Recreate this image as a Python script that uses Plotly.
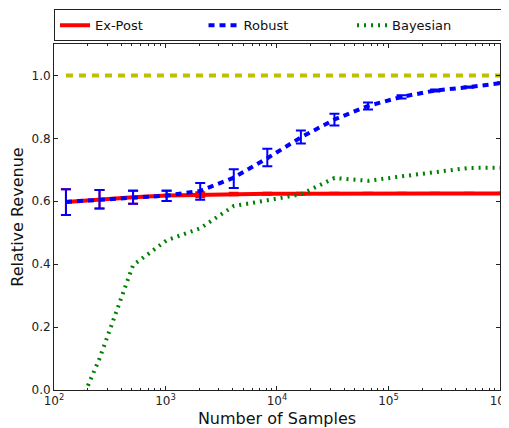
import plotly.graph_objects as go

samples = [2**k for k in range(7, 21)]

expost = [0.598, 0.606, 0.613, 0.618, 0.621, 0.623, 0.624, 0.624, 0.625, 0.625, 0.625, 0.625, 0.625, 0.625]
expost_err_up = [0.040, 0.030, 0.020, 0.015, 0.008, 0.004, 0.003, 0.003, 0.002, 0.002, 0.002, 0.002, 0.002, 0.002]
expost_err_dn = [0.042, 0.029, 0.021, 0.017, 0.008, 0.004, 0.003, 0.003, 0.002, 0.002, 0.002, 0.002, 0.002, 0.002]

robust = [0.598, 0.605, 0.613, 0.618, 0.633, 0.675, 0.737, 0.803, 0.860, 0.903, 0.932, 0.952, 0.963, 0.976]
robust_err_up = [0.040, 0.031, 0.021, 0.016, 0.025, 0.027, 0.030, 0.022, 0.018, 0.011, 0.005, 0.003, 0.002, 0.002]
robust_err_dn = [0.042, 0.028, 0.021, 0.017, 0.028, 0.033, 0.026, 0.019, 0.019, 0.011, 0.005, 0.003, 0.002, 0.002]

bayesian = [-0.15, 0.10, 0.397, 0.476, 0.514, 0.585, 0.603, 0.622, 0.674, 0.665, 0.679, 0.691, 0.706, 0.707]

optimal = [1.0] * len(samples)

x_ticks = [1e2, 1e3, 1e4, 1e5, 1e6]
x_tick_labels = ["10<sup>2</sup>", "10<sup>3</sup>", "10<sup>4</sup>", "10<sup>5</sup>", "10<sup>6</sup>"]
x_minor_ticks = [m * 10**e for e in range(2, 6) for m in range(2, 10)]
y_ticks = [0.0, 0.2, 0.4, 0.6, 0.8, 1.0]
y_tick_labels = ["0.0", "0.2", "0.4", "0.6", "0.8", "1.0"]

FONT = "DejaVu Sans"

fig = go.Figure()

fig.add_trace(go.Scatter(
    x=samples, y=expost, name="Ex-Post", mode="lines",
    line=dict(color="#ff0000", width=4),
    error_y=dict(type="data", array=expost_err_up, arrayminus=expost_err_dn,
                 color="#ff0000", thickness=2, width=5),
))
fig.add_trace(go.Scatter(
    x=samples, y=robust, name="Robust", mode="lines",
    line=dict(color="#0000ff", width=4, dash="6px,5px"),
    error_y=dict(type="data", array=robust_err_up, arrayminus=robust_err_dn,
                 color="#0000ff", thickness=2, width=5),
))
fig.add_trace(go.Scatter(
    x=samples, y=bayesian, name="Bayesian", mode="lines",
    line=dict(color="#008000", width=4, dash="2px,5px"),
))
fig.add_trace(go.Scatter(
    x=samples, y=optimal, name="Optimal", mode="lines", showlegend=False,
    line=dict(color="#bfbf00", width=4, dash="7px,6px"),
))

axis_common = dict(
    showgrid=False, zeroline=False, showline=True, linecolor="#222", linewidth=1,
    mirror="ticks", ticks="inside", ticklen=4, tickcolor="#222", automargin=False,
    tickfont=dict(family=FONT, size=12, color="#222"),
)

fig.update_xaxes(
    type="log", range=[2, 6.0005], tickvals=x_ticks, ticktext=x_tick_labels,
    ticklabeloverflow="allow",
    title=dict(text="Number of Samples", font=dict(family=FONT, size=16, color="#111"), standoff=9),
    minor=dict(tickmode="array", tickvals=x_minor_ticks, ticks="inside", ticklen=2,
               tickcolor="#222", showgrid=False),
    **axis_common,
)
fig.update_yaxes(
    range=[0, 1.1], tickvals=y_ticks, ticktext=y_tick_labels,
    title=dict(text="Relative Revenue", font=dict(family=FONT, size=16, color="#111"), standoff=4),
    **axis_common,
)

fig.update_layout(
    width=501, height=420,
    margin=dict(l=46, r=9, t=36, b=38, autoexpand=False),
    paper_bgcolor="white", plot_bgcolor="white",
    font=dict(family=FONT, size=13, color="#111"),
    legend=dict(
        orientation="h", x=0, y=1.008, xanchor="left", yanchor="bottom",
        bordercolor="#222", borderwidth=1, bgcolor="white",
        entrywidth=0.333, entrywidthmode="fraction",
        font=dict(family=FONT, size=13, color="#111"),
    ),
)

fig.write_html("out.html")
